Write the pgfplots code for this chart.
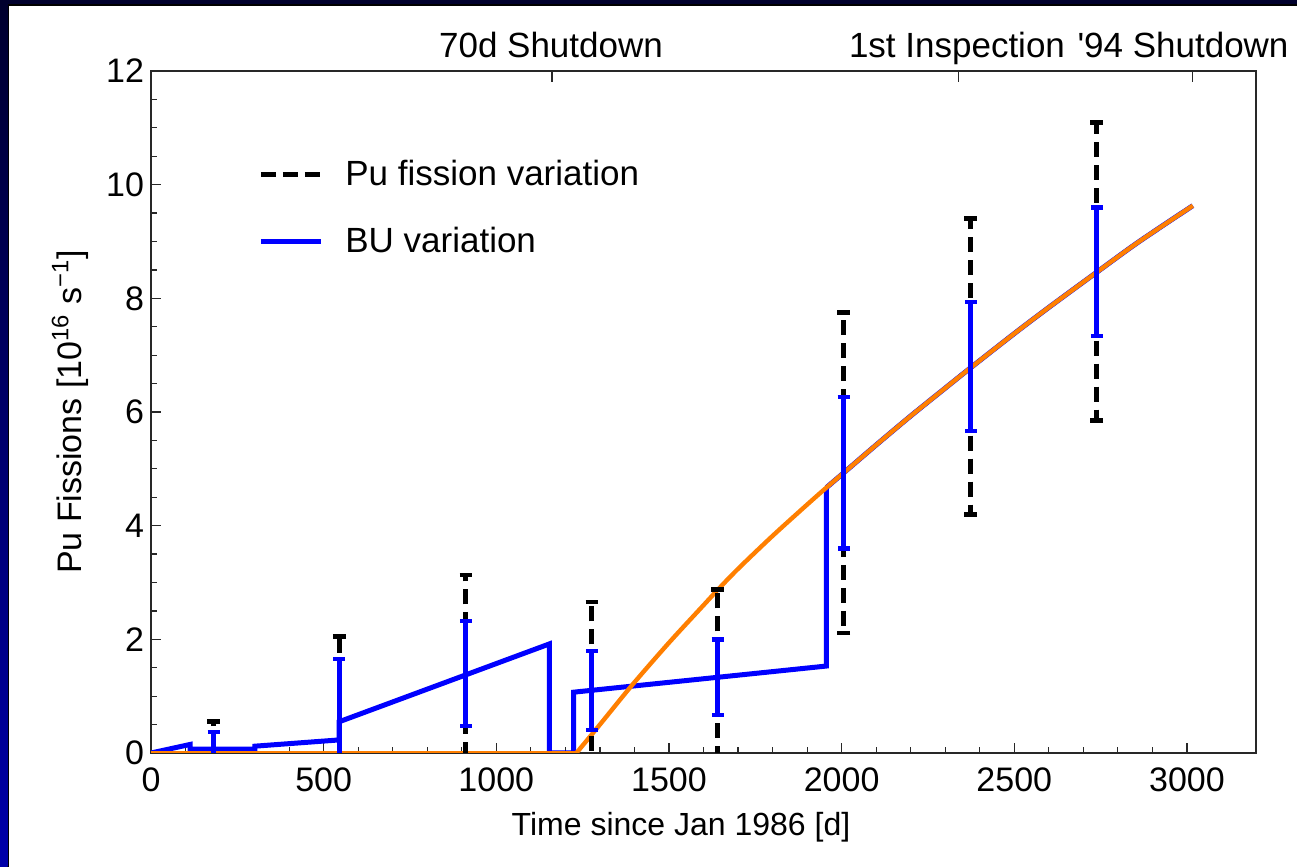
\documentclass[border=0pt]{standalone}
\usepackage{fontspec}
\setmainfont{Liberation Sans}
\usepackage{pgfplots}
\pgfplotsset{compat=1.18}
\definecolor{mmaorange}{RGB}{255,127,0}
\definecolor{navyA}{RGB}{0,0,45}
\definecolor{navyB}{RGB}{0,0,170}
\definecolor{axgray}{RGB}{40,40,40}
\begin{document}
\begin{tikzpicture}
\useasboundingbox (0pt,0pt) rectangle (648.5pt,433.5pt);
\fill[white] (0pt,0pt) rectangle (648.5pt,433.5pt);
\fill[top color=navyA, bottom color=navyB] (0pt,0pt) rectangle (3.8pt,433.5pt);
\fill[navyA] (0pt,431.3pt) rectangle (648.5pt,433.5pt);
\draw[black, line width=0.6pt] (4.1pt,0pt) -- (4.1pt,431pt) -- (648.5pt,431pt);

% main axis
\begin{axis}[
  at={(75.5pt,57pt)}, anchor=south west, scale only axis,
  width=552.5pt, height=341pt,
  xmin=0, xmax=3200, ymin=0, ymax=12,
  xtick={0,500,...,3000}, minor x tick num=4,
  ytick={0,2,...,12}, minor y tick num=3,
  xtick pos=bottom, ytick pos=left,
  major tick length=5pt, minor tick length=2.8pt,
  axis line style={axgray, line width=0.7pt},
  every tick/.style={axgray, line width=0.6pt},
  /pgf/number format/assume math mode=true,
  /pgf/number format/1000 sep={},
  ticklabel style={font=\fontsize{17}{20}\selectfont},
  xticklabel style={yshift=-4pt},
  legend style={draw=none, fill=none, inner sep=0pt, at={(0.0968,0.871)}, anchor=north west,
    font=\fontsize{17.5}{20}\selectfont, row sep=16.5pt,
    nodes={inner sep=0pt, text height=13pt, text depth=4pt}},
  legend cell align=left,
  legend image code/.code={\draw[#1] (0pt,1pt) -- (30pt,1pt); \path (41pt,1pt);},
]
\addlegendimage{black, line width=2.5pt, dash pattern=on 7.5pt off 3.5pt}
\addlegendentry{Pu fission variation}
\addlegendimage{blue, line width=2.5pt}
\addlegendentry{BU variation}

% BU variation line
\addplot[blue, line width=2.5pt, forget plot] coordinates {
(0,0) (113,0.15) (113,0.07) (301,0.07) (301,0.12) (545,0.23) (545,0.55)
(1154,1.92) (1154,0) (1224,0) (1224,1.07) (1956,1.53) (1956,4.67)
};
\addplot[blue, line width=2.5pt, smooth, forget plot] coordinates {
(1956,4.67) (2006,4.93) (2100,5.42) (2200,5.93) (2300,6.42) (2374,6.78) (2500,7.38)
(2600,7.84) (2739,8.46) (2850,8.95) (2950,9.36) (3017,9.63)
};

% orange curve
\addplot[mmaorange, line width=2.2pt, forget plot] coordinates {
(0,0) (1232,0)
};
\addplot[mmaorange, line width=2.2pt, smooth, forget plot] coordinates {
(1232,0) (1300,0.50) (1394,1.20) (1500,1.94) (1600,2.60) (1641,2.87)
(1700,3.24) (1800,3.82) (1900,4.37) (1956,4.67) (2006,4.93) (2100,5.42)
(2200,5.93) (2300,6.42) (2374,6.78) (2500,7.38) (2600,7.84) (2739,8.46)
(2850,8.95) (2950,9.36) (3017,9.63)
};

% Pu fission variation error bars
\addplot[draw=none, mark=none, forget plot,
  error bars/.cd, y dir=both, y explicit,
  error bar style={draw=black, line width=2.5pt, dash pattern=on 7.5pt off 4pt},
  error mark options={rotate=90, draw=black, line width=2.3pt, mark size=3.2pt, solid}]
coordinates {
(181,0.07) +- (0,0.48)
(545,0.55) +- (0,1.50)
(912,1.40) +- (0,1.73)
(1277,1.10) +- (0,1.56)
(1641,1.33) +- (0,1.55)
(2006,4.93) +- (0,2.82)
(2374,6.80) +- (0,2.60)
(2739,8.47) +- (0,2.62)
};

% BU variation error bars
\addplot[draw=none, mark=none, forget plot,
  error bars/.cd, y dir=both, y explicit,
  error bar style={draw=blue, line width=2.5pt, solid},
  error mark options={rotate=90, draw=blue, line width=2.2pt, mark size=3pt, solid}]
coordinates {
(181,0.07) +- (0,0.30)
(545,0.55) +- (0,1.10)
(912,1.40) +- (0,0.925)
(1277,1.10) +- (0,0.695)
(1641,1.33) +- (0,0.665)
(2006,4.93) +- (0,1.33)
(2374,6.80) +- (0,1.135)
(2739,8.47) +- (0,1.13)
};
\end{axis}

% top event ticks and right minor ticks
\begin{axis}[
  at={(75.5pt,57pt)}, anchor=south west, scale only axis,
  width=552.5pt, height=341pt,
  xmin=0, xmax=3200, ymin=0, ymax=12,
  axis x line*=top, axis y line*=right,
  xtick={1161,2339,3017}, xticklabels={},
  ytick=\empty, minor ytick={0,0.5,...,12},
  major tick length=5.5pt, minor tick length=2.5pt,
  axis line style={axgray, line width=0.7pt},
  every tick/.style={axgray, line width=0.6pt},
]
\end{axis}

\node[anchor=base, font=\fontsize{17.5}{20}\selectfont] at (275.5pt,404.5pt) {70d Shutdown};
\node[anchor=base, font=\fontsize{17.5}{20}\selectfont] at (478.5pt,404.5pt) {1st Inspection};
\node[anchor=base, font=\fontsize{17.5}{20}\selectfont] at (591.5pt,404.5pt) {\textquotesingle 94 Shutdown};
\node[anchor=base, font=\fontsize{16}{19}\selectfont] at (340.5pt,15.5pt) {Time since Jan 1986 [d]};
\node[anchor=base, rotate=90, font=\fontsize{17}{20}\selectfont] at (40.5pt,227.5pt)
  {Pu Fissions [10\textsuperscript{16} s\textsuperscript{\char"2212 1}]};
\end{tikzpicture}
\end{document}
